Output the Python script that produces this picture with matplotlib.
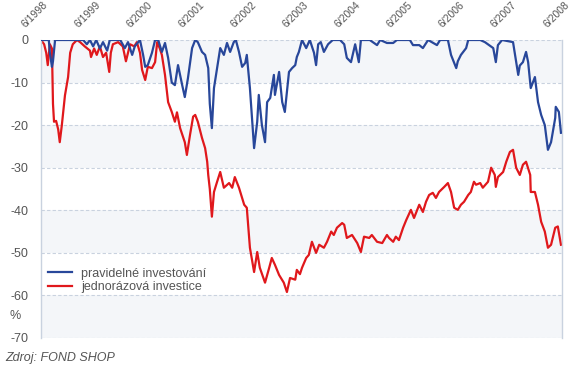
import matplotlib
matplotlib.use("Agg")
import matplotlib.pyplot as plt
from matplotlib.transforms import offset_copy

plt.rcParams['font.family'] = ['Liberation Sans', 'DejaVu Sans']

# time axis: years since 6/1998
tick_labels = ['6/1998', '6/1999', '6/2000', '6/2001', '6/2002', '6/2003',
               '6/2004', '6/2005', '6/2006', '6/2007', '6/2008']

# jednorázová investice (lump sum), %
red_t = [0.00, 0.06, 0.10, 0.13, 0.17, 0.21, 0.23, 0.25, 0.29, 0.33, 0.36, 0.40,
         0.46, 0.52, 0.56, 0.61, 0.69, 0.75, 0.84, 0.94, 0.96, 1.02, 1.07, 1.13,
         1.19, 1.25, 1.31, 1.34, 1.38, 1.48, 1.57, 1.63, 1.71, 1.79, 1.84, 1.90,
         1.94, 2.00, 2.05, 2.13, 2.19, 2.23, 2.28, 2.32, 2.38, 2.44, 2.51, 2.57,
         2.61, 2.67, 2.76, 2.80, 2.86, 2.92, 2.96, 3.01, 3.09, 3.15, 3.19, 3.21,
         3.24, 3.28, 3.32, 3.38, 3.44, 3.51, 3.61, 3.67, 3.72, 3.80, 3.90, 3.95,
         4.01, 4.09, 4.15, 4.20, 4.30, 4.38, 4.43, 4.49, 4.57, 4.66, 4.72, 4.78,
         4.88, 4.91, 4.97, 5.01, 5.09, 5.14, 5.20, 5.28, 5.34, 5.43, 5.49, 5.57,
         5.62, 5.68, 5.78, 5.82, 5.87, 5.97, 6.07, 6.14, 6.20, 6.30, 6.35, 6.45,
         6.55, 6.64, 6.68, 6.76, 6.81, 6.87, 6.95, 7.01, 7.10, 7.16, 7.26, 7.33,
         7.39, 7.45, 7.52, 7.58, 7.64, 7.74, 7.81, 7.87, 7.93, 8.00, 8.06, 8.12,
         8.20, 8.25, 8.31, 8.35, 8.43, 8.48, 8.58, 8.64, 8.71, 8.73, 8.77, 8.87,
         8.93, 9.00, 9.06, 9.12, 9.19, 9.25, 9.31, 9.39, 9.40, 9.48, 9.54, 9.60,
         9.67, 9.73, 9.79, 9.87, 9.92, 9.98]
red_v = [0, -1, -3, -5.9, -1, -2, -15, -19.2, -19, -21, -24, -20,
         -13, -8.7, -3, -1, 0, -0.5, -1.5, -2.5, -4, -2, -3.5, -1.5,
         -4, -3, -7.5, -3, -1, -0.5, -1.5, -5, -1, -1.5, -0.5, -3,
         -7, -9.4, -6.3, -6.6, -5.2, -0.5, -2, -3.5, -8.2, -14.6, -16.9, -19.2,
         -17, -20.7, -24, -27, -22.3, -18, -17.6, -19.2, -23, -25.4, -28.6, -31.7,
         -35, -41.5, -35.7, -33.3, -31, -34.7, -33.6, -34.7, -32.2, -34.7, -38.7, -39.4,
         -48.8, -54.5, -49.8, -53.5, -57, -53.5, -51.2, -52.8, -55.2, -57, -59.2, -55.9,
         -56.3, -54, -55, -53.5, -51.2, -50.5, -47.4, -50, -48.1, -48.8, -47.4, -45,
         -45.8, -44.1, -43, -43.4, -46.5, -45.8, -47.7, -49.8, -46.2, -46.5, -45.8, -47.4,
         -47.7, -45.8, -46.5, -47.4, -46.2, -47, -44.1, -42.3, -39.9, -41.8, -38.7, -40.4,
         -38, -36.4, -35.9, -37.1, -35.7, -34.5, -33.6, -35.7, -39.4, -39.9, -38.7, -38,
         -36.4, -35.7, -33.3, -34, -33.6, -34.7, -33.3, -30, -31.7, -34.5, -32.2, -31,
         -28.6, -26.3, -25.8, -30, -31.7, -29.3, -28.6, -31.7, -35.7, -35.7, -38.7, -42.7,
         -45, -48.8, -48.1, -44.1, -43.8, -48.1]

# pravidelné investování (regular investing), %
blue_t = [0.00, 0.15, 0.17, 0.21, 0.23, 0.27, 0.81, 0.88, 0.94, 1.00, 1.06, 1.13,
          1.19, 1.27, 1.32, 1.52, 1.61, 1.67, 1.75, 1.80, 1.90, 1.96, 2.00, 2.05,
          2.13, 2.19, 2.25, 2.32, 2.38, 2.44, 2.51, 2.57, 2.63, 2.71, 2.76, 2.82,
          2.90, 2.96, 3.01, 3.09, 3.15, 3.21, 3.24, 3.28, 3.32, 3.38, 3.44, 3.51,
          3.57, 3.63, 3.70, 3.74, 3.80, 3.86, 3.92, 3.95, 4.01, 4.05, 4.09, 4.15,
          4.18, 4.24, 4.30, 4.34, 4.40, 4.47, 4.49, 4.57, 4.63, 4.68, 4.76, 4.82,
          4.88, 4.91, 4.95, 5.01, 5.09, 5.16, 5.24, 5.28, 5.32, 5.37, 5.43, 5.51,
          5.60, 5.74, 5.82, 5.87, 5.95, 6.03, 6.10, 6.14, 6.31, 6.45, 6.51, 6.64,
          6.76, 6.83, 7.08, 7.14, 7.26, 7.33, 7.43, 7.60, 7.66, 7.81, 7.87, 7.97,
          8.00, 8.06, 8.16, 8.20, 8.43, 8.52, 8.68, 8.73, 8.77, 8.85, 9.06, 9.12,
          9.16, 9.19, 9.25, 9.31, 9.35, 9.40, 9.48, 9.54, 9.60, 9.67, 9.73, 9.79,
          9.87, 9.88, 9.94, 9.98]
blue_v = [0, 0, -3, -6.3, -5, 0, 0, -1, 0, -1.5, 0, -2,
          -0.5, -2.5, 0, 0, -1.9, -0.5, -3.5, -1.5, 0, -3.5, -6.3, -5.9,
          -3, 0, 0, -2.8, -0.7, -4.2, -10, -10.6, -5.9, -10.6, -13.4, -9,
          -1.9, 0, -0.5, -2.8, -3.5, -6.6, -15, -20.7, -11.3, -6.6, -1.9, -3.5,
          -0.7, -2.8, -0.5, 0, -2.8, -6.3, -5.4, -3.5, -11.3, -18.3, -25.4, -19.2,
          -12.9, -20, -24, -14.6, -13.6, -8.2, -12.9, -7.5, -14.6, -16.9, -7.5, -6.6,
          -5.9, -4, -2.8, 0, -1.9, 0, -3, -5.9, -1, -0.5, -2.8, -1,
          0, 0, -1, -4.2, -5.2, -1, -5.2, 0, 0, -1.2, 0, -0.7,
          -0.7, 0, 0, -1.2, -1.2, -1.9, 0, -1.2, 0, 0, -3.5, -6.6,
          -5, -3.5, -1.9, 0, 0, -0.5, -1.9, -5.2, -1.2, 0, -0.5, -5.2,
          -8.2, -6, -5.2, -2.8, -5.2, -11.3, -8.7, -14.6, -17.6, -20, -25.8, -24,
          -18.3, -15.7, -16.9, -21.8]

y_ticks = [0, -10, -20, -30, -40, -50, -60, -70]

fig = plt.figure(figsize=(5.8, 3.7), dpi=100)
ax = fig.add_axes([41 / 580, 1 - 338 / 370, 521 / 580, 298 / 370])

grid_c = '#c9d2df'
band_c = '#f4f6f9'
for lo in (-10, -30, -50, -70):
    ax.axhspan(lo, lo + 10, color=band_c, lw=0, zorder=0)
for y in y_ticks:
    ax.axhline(y, color=grid_c, lw=0.8, ls=(0, (3, 2)), zorder=1)

ax.plot(blue_t, blue_v, color='#28479a', lw=1.6, zorder=3, label='pravidelné investování')
ax.plot(red_t, red_v, color='#e0181c', lw=1.6, zorder=2, label='jednorázová investice')

ax.set_xlim(0, 10)
ax.set_ylim(-70, 0)
ax.set_yticks(y_ticks)
ax.set_yticklabels([str(v) for v in y_ticks], color='#555555', fontsize=9)
ax.tick_params(axis='y', length=0, pad=9)
ax.set_xticks([])

for s in ('top', 'bottom'):
    ax.spines[s].set_visible(False)
for s in ('left', 'right'):
    ax.spines[s].set_color(grid_c)
    ax.spines[s].set_linewidth(1.0)

# rotated date labels above the plot
tr = offset_copy(ax.get_xaxis_transform(), fig=fig, x=-15, y=12, units='dots')
for i, lab in enumerate(tick_labels):
    ax.text(i, 1, lab, transform=tr, rotation=45, rotation_mode='anchor',
            ha='left', va='baseline', fontsize=7.5, color='#555555')

leg = ax.legend(loc='upper left', bbox_to_anchor=(0.004, 0.253), frameon=False,
                fontsize=9, handlelength=1.9, handletextpad=0.75,
                labelspacing=0.15, borderaxespad=0)
for t in leg.get_texts():
    t.set_color('#555555')

fig.text(15 / 580, 1 - 316 / 370, '%', ha='center', va='center', fontsize=9, color='#555555')
fig.text(5 / 580, 1 - 358 / 370, 'Zdroj: FOND SHOP', ha='left', va='center',
         fontsize=9, style='italic', color='#555555')

fig.savefig('out.png', dpi=100)
